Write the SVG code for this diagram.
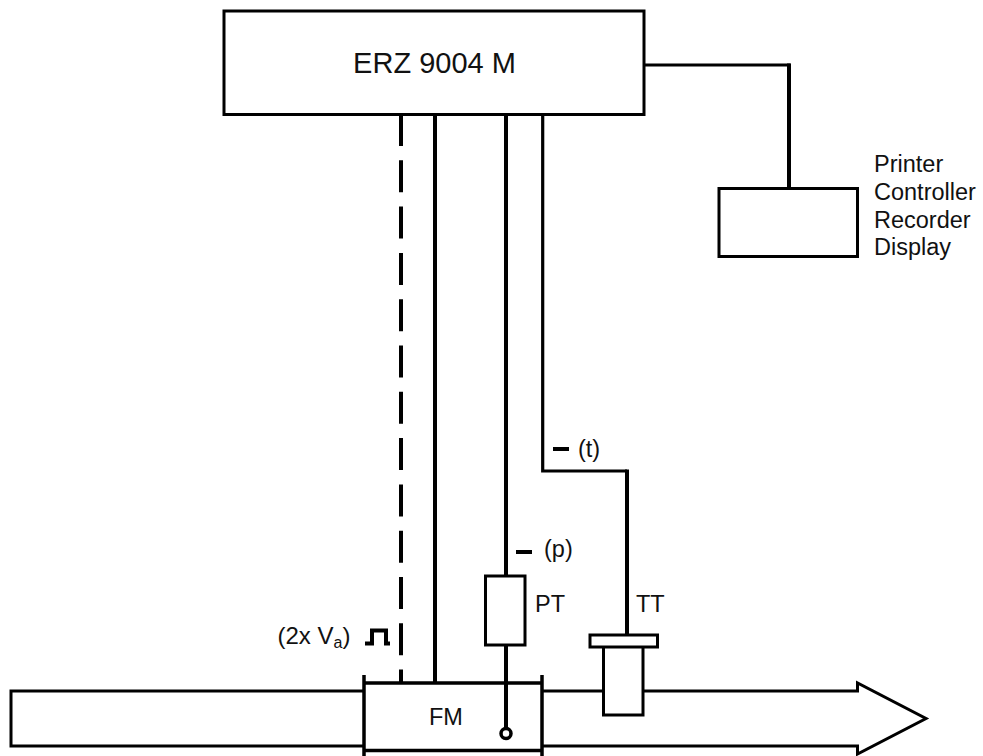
<svg xmlns="http://www.w3.org/2000/svg" width="983" height="756" viewBox="0 0 983 756">
<style>
.s{fill:none;stroke:#000;stroke-linejoin:miter}
.w{fill:#fff;stroke:#000}
text{font-family:"Liberation Sans",Arial,sans-serif;fill:#111}
.t{font-size:23.5px}
</style>
<rect width="983" height="756" fill="#fff"/>
<g id="pipe">
<path class="s" stroke-width="3" d="M364 691H11V746H364"/>
<path class="s" stroke-width="3" d="M542 691H857.5V683L926 718.5L857.5 754V746H542"/>
</g>
<g id="erz"><rect class="w" stroke-width="3" x="224" y="11" width="420" height="103.500"/><text x="434.500" y="73" text-anchor="middle" font-size="29">ERZ 9004 M</text></g>
<g id="printer"><rect class="w" stroke-width="3" x="719" y="188.500" width="138.500" height="68"/>
<text class="t" x="874" y="172">Printer</text><text class="t" x="874" y="200">Controller</text><text class="t" x="874" y="227.500">Recorder</text><text class="t" x="874" y="255">Display</text></g>
<g id="connectors">
<path class="s" stroke-width="2.800" d="M644 65H790.500"/>
<path class="s" stroke-width="4" d="M789 63.500V188"/>
<path class="s" stroke-width="4" stroke-dasharray="32 14.300" d="M401 114V683"/>
<path class="s" stroke-width="4" d="M435 114V683"/>
<path class="s" stroke-width="4" d="M506 114V576"/>
<path class="s" stroke-width="4" d="M506 645V728"/>
<path class="s" stroke-width="3.200" d="M542.700 114V471H627"/>
<path class="s" stroke-width="4" d="M627 469.500V635"/>
<path class="s" stroke-width="4" d="M553 449H569M516 552H532"/>
<path class="s" stroke-width="4" d="M365 643.500H372V630.500H386V643.500H390"/>
</g>
<g id="fm"><path class="s" stroke-width="3.500" d="M364 683H542M364 750.500H542"/><path class="s" stroke-width="3.500" d="M364 675V756M542 675V756"/><circle class="w" stroke-width="3.500" cx="506" cy="733.500" r="5"/><text class="t" x="429" y="725">FM</text></g>
<g id="pt"><rect class="w" stroke-width="3" x="485.500" y="576" width="39.500" height="69"/><text class="t" x="535" y="612">PT</text></g>
<g id="tt"><rect class="w" stroke-width="3" x="603.500" y="646" width="39.500" height="69"/><rect class="w" stroke-width="3" x="590" y="635" width="67.500" height="12"/><text class="t" x="636" y="612">TT</text></g>
<g id="labels">
<text class="t" x="578" y="456.500">(t)</text>
<text class="t" x="544" y="557">(p)</text>
<text x="277.500" y="643.500" font-size="24">(2x V<tspan font-size="16" dy="4">a</tspan><tspan dy="-4">)</tspan></text>
</g>
</svg>
